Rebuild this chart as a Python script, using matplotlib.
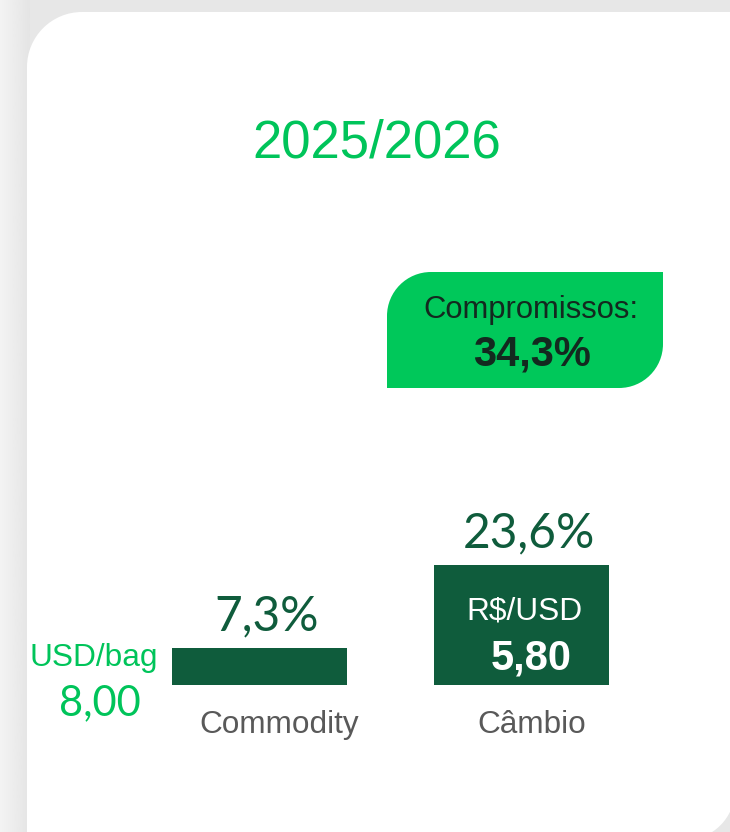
import numpy as np
import matplotlib.pyplot as plt
from matplotlib.path import Path
from matplotlib.patches import PathPatch

# ---- dados
categorias = ['Commodity', 'Câmbio']
variacao = [7.3, 23.6]
rotulos_var = ['7,3%', '23,6%']
titulo = '2025/2026'
rotulo_compromissos = 'Compromissos:'
compromissos = '34,3%'
unidade_commodity = 'USD/bag'
preco_commodity = '8,00'
unidade_cambio = 'R$/USD'
preco_cambio = '5,80'

VERDE = '#00c45a'
VERDE_ESCURO = '#0f5c3c'
CINZA = '#595959'
TEXTO_ESCURO = '#13291f'

W, H = 730, 832
fig = plt.figure(figsize=(W / 100, H / 100), dpi=100)
fig.patch.set_facecolor('#e7e7e7')


def forma(x0, y0, x1, y1, r1, r2):
    # retangulo com cantos sup-esq e inf-dir arredondados (coords em pixel, y pra baixo)
    k = 0.5523
    verts = [(x0, y0 + r1),
             (x0, y0 + r1 - k * r1), (x0 + r1 - k * r1, y0), (x0 + r1, y0),
             (x1, y0),
             (x1, y1 - r2),
             (x1, y1 - r2 + k * r2), (x1 - r2 + k * r2, y1), (x1 - r2, y1),
             (x0, y1),
             (x0, y0 + r1)]
    codes = [Path.MOVETO, Path.CURVE4, Path.CURVE4, Path.CURVE4, Path.LINETO,
             Path.LINETO, Path.CURVE4, Path.CURVE4, Path.CURVE4, Path.LINETO,
             Path.CLOSEPOLY]
    return Path(verts, codes)


# ---- fundo / cartao
fundo = fig.add_axes([0, 0, 1, 1])
grad = np.linspace(0.955, 0.895, 60)[None, :]
fundo.imshow(grad, extent=(0, 30, H, 0), cmap='gray', vmin=0, vmax=1,
             aspect='auto', interpolation='bilinear')
fundo.set_xlim(0, W)
fundo.set_ylim(H, 0)
fundo.axis('off')

fundo.add_patch(PathPatch(forma(27, 12, 735, 840, 55, 50),
                          facecolor='white', edgecolor='none'))
fundo.add_patch(PathPatch(forma(387, 272, 663, 388, 44, 44),
                          facecolor='#00c85a', edgecolor='none'))

fundo.text(377, 158, titulo, ha='center', va='baseline', fontsize=38,
           color=VERDE, family='Liberation Sans')
fundo.text(531, 318, rotulo_compromissos, ha='center', va='baseline',
           fontsize=22.3, color=TEXTO_ESCURO, family='Liberation Sans')
fundo.text(532, 366, compromissos, ha='center', va='baseline', fontsize=30,
           fontweight='bold', color=TEXTO_ESCURO, family='Liberation Sans')

fundo.text(94, 666, unidade_commodity, ha='center', va='baseline',
           fontsize=22.8, color=VERDE, family='Liberation Sans')
fundo.text(100, 715, preco_commodity, ha='center', va='baseline',
           fontsize=30, color=VERDE, family='Lato')

# ---- barras
ax = fig.add_axes([128.5 / W, 1 - 685 / H, 524 / W, 152 / H])
ax.patch.set_alpha(0)
x = np.arange(len(categorias))
ax.bar(x, variacao, width=175 / 262, color=VERDE_ESCURO)
ax.set_xlim(-0.5, 1.5)
ax.set_ylim(0, 30)
ax.axis('off')

for i, (v, r) in enumerate(zip(variacao, rotulos_var)):
    ax.annotate(r, (i, v), xytext=(7, 18), textcoords='offset pixels',
                ha='center', va='baseline', fontsize=34.5, color=VERDE_ESCURO,
                family='Lato', annotation_clip=False)

desloc = [20, 10]
for i, c in enumerate(categorias):
    ax.annotate(c, (i, 0), xytext=(desloc[i], -48), textcoords='offset pixels',
                ha='center', va='baseline', fontsize=22.7, color=CINZA,
                family='Liberation Sans', annotation_clip=False)

ax.annotate(unidade_cambio, (1, 0), xytext=(3, 65), textcoords='offset pixels',
            ha='center', va='baseline', fontsize=22.8, color='white',
            family='Liberation Sans')
ax.annotate(preco_cambio, (1, 0), xytext=(10, 15), textcoords='offset pixels',
            ha='center', va='baseline', fontsize=30, fontweight='bold',
            color='white', family='Liberation Sans')

fig.savefig('out.png', dpi=100, facecolor=fig.get_facecolor())
